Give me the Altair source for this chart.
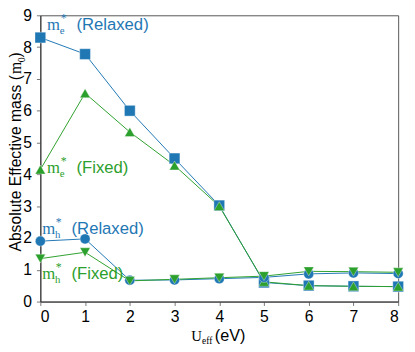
import altair as alt
import pandas as pd

# ---- data ----
u_eff = [0, 1, 2, 3, 4, 5, 6, 7, 8]
me_relaxed = [8.30, 7.78, 6.00, 4.50, 3.02, 0.60, 0.50, 0.48, 0.47]
me_fixed = [4.15, 6.55, 5.33, 4.28, 3.00, 0.62, 0.50, 0.48, 0.47]
mh_relaxed = [1.90, 1.97, 0.67, 0.68, 0.72, 0.76, 0.87, 0.90, 0.88]
mh_fixed = [1.35, 1.55, 0.65, 0.70, 0.75, 0.80, 0.95, 0.94, 0.92]

series_names = ["me_relaxed", "me_fixed", "mh_relaxed", "mh_fixed"]
series_values = [me_relaxed, me_fixed, mh_relaxed, mh_fixed]
series_colors = ["#1f77b4", "#2ca02c", "#1f77b4", "#2ca02c"]
series_shapes = ["square", "triangle-up", "circle", "triangle-down"]
series_sizes = [120, 110, 105, 110]

label_sub = ["e", "e", "h", "h"]
label_word = ["(Relaxed)", "(Fixed)", "(Relaxed)", "(Fixed)"]
label_x = [0.15, 0.15, 0.04, 0.04]
label_y = [8.55, 4.04, 2.13, 0.71]

x_ticks = [0, 1, 2, 3, 4, 5, 6, 7, 8]
y_ticks = [0, 1, 2, 3, 4, 5, 6, 7, 8, 9]

SANS = "Liberation Sans"
SERIF = "Liberation Serif"

xs = alt.Scale(domain=[0, 8], nice=False)
ys = alt.Scale(domain=[0, 9], nice=False)
X = lambda f: alt.X(f, scale=xs, axis=alt.Axis(values=x_ticks, title=None,
                                                 format="d", labelPadding=3))
Y = lambda f: alt.Y(f, scale=ys, axis=alt.Axis(values=y_ticks, title=None,
                                                 format="d", labelPadding=5))

layers = []
# lines
for name, vals, col in zip(series_names, series_values, series_colors):
    df = pd.DataFrame({"U": u_eff, "m": vals})
    layers.append(
        alt.Chart(df).mark_line(color=col, strokeWidth=1.0).encode(
            x=X("U:Q"), y=Y("m:Q"))
    )
# markers
for name, vals, col, shp, sz in zip(series_names, series_values, series_colors,
                                     series_shapes, series_sizes):
    df = pd.DataFrame({"U": u_eff, "m": vals})
    layers.append(
        alt.Chart(df).mark_point(shape=shp, size=sz, filled=True, color=col,
                                 opacity=1, stroke="white", strokeOpacity=0.45,
                                 strokeWidth=0.8).encode(
            x=X("U:Q"), y=Y("m:Q"))
    )

# in-plot labels
lab = pd.DataFrame({"x": label_x, "y": label_y, "sub": label_sub,
                    "word": label_word, "col": series_colors})
cscale = alt.Scale(domain=series_colors, range=series_colors)
base_lab = alt.Chart(lab).encode(
    x=X("x:Q"), y=Y("y:Q"),
    color=alt.Color("col:N", scale=cscale, legend=None))
layers.append(base_lab.mark_text(text="m", font=SERIF, fontSize=17,
                                 align="left", baseline="alphabetic"))
layers.append(base_lab.mark_text(font=SERIF, fontSize=11, align="left",
                                 baseline="alphabetic", dx=13, dy=4)
              .encode(text="sub:N"))
layers.append(base_lab.mark_text(text="*", font=SERIF, fontSize=12,
                                 align="left", baseline="alphabetic", dx=14, dy=-8))
layers.append(base_lab.mark_text(font=SANS, fontSize=17, align="left",
                                 baseline="alphabetic", dx=30)
              .encode(text="word:N"))

# axis titles built from text pieces (mixed fonts)
one = pd.DataFrame({"k": [0]})
def txt(s, x, y, font, size, angle=0):
    return alt.Chart(one).mark_text(text=s, font=font, fontSize=size,
                                    align="left", baseline="alphabetic",
                                    angle=angle, color="black").encode(
        x=alt.value(x), y=alt.value(y))

layers += [
    txt("U", 154, 332, SERIF, 15),
    txt("eff", 165, 335, SERIF, 9.5),
    txt("(eV)", 178, 332, SANS, 16.5),
    txt("Absolute Effective mass (", -20, 241, SANS, 16, 270),
    txt("m", -20, 60, SERIF, 16, 270),
    txt("0", -16, 48, SERIF, 10, 270),
    txt(")", -20, 43, SANS, 16, 270),
]

chart = alt.layer(*layers).properties(
    width=365, height=292,
    autosize=alt.AutoSizeParams(type="none"),
    padding={"left": 33, "top": 4, "right": 9, "bottom": 48},
).configure_view(stroke="#555", strokeWidth=1).configure_axis(
    grid=False, labelFont=SANS, labelFontSize=16, labelColor="black",
    tickColor="#777", tickSize=4, domainColor="#333",
)

chart.save("out.html", embed_options={"renderer": "svg", "actions": False})
